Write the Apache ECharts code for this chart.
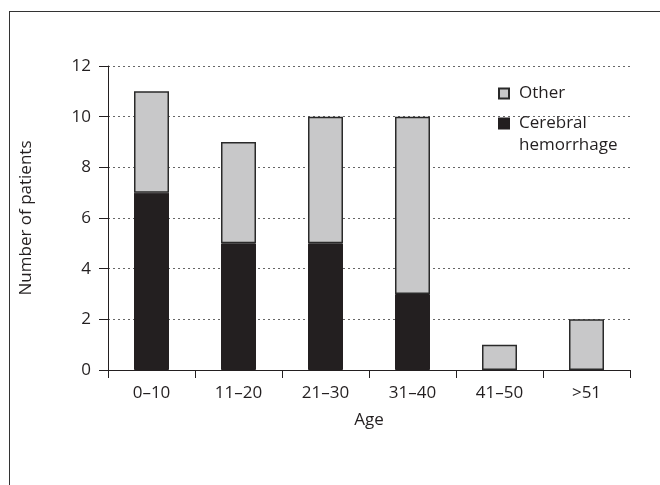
<!DOCTYPE html>
<html>
<head>
<meta charset="utf-8">
<script src="https://cdn.jsdelivr.net/npm/echarts@6/dist/echarts.min.js"></script>
<style>
  html, body { margin: 0; padding: 0; background: #fff; }
  .wrap { position: relative; width: 660px; height: 485px; overflow: hidden; }
  .frame { position: absolute; left: 9px; top: 11px; right: -2px; bottom: -2px;
    border-left: 1.5px solid #333; border-top: 1.5px solid #333; }
  #chart { position: absolute; left: 0; top: 0; width: 660px; height: 485px; }
</style>
</head>
<body>
<div class="wrap">
  <div class="frame"></div>
  <div id="chart"></div>
</div>
<script>
// age groups
var ageGroups = ['0–10', '11–20', '21–30', '31–40', '41–50', '>51']
// cerebral hemorrhage cases per group
var cerebral = [7, 5, 5, 3, 0, 0]
// other causes per group
var other = [4, 4, 5, 7, 1, 2]

var font = '"Open Sans", "Noto Sans", sans-serif'
var fs = 17
var myChart = echarts.init(document.getElementById('chart'))
myChart.setOption({
  animation: false,
  textStyle: { fontFamily: font },
  grid: {
    left: 108,
    right: 30,
    top: 66,
    bottom: 115,
    containLabel: false
  },
  legend: {
    orient: 'vertical',
    left: 498,
    top: 85,
    padding: 0,
    itemWidth: 10,
    itemHeight: 10,
    itemGap: -9,
    icon: 'rect',
    data: ['Other', 'Cerebral\nhemorrhage'],
    // blank first line keeps "Cerebral" level with its icon
    formatter: function (name) {
      var lines = name.split('\n')
      if (lines.length > 1) lines.unshift(' ')
      return lines.map(function (l) { return '{t|' + l + '}' }).join('\n')
    },
    textStyle: {
      fontFamily: font,
      fontSize: fs,
      color: '#231f20',
      rich: {
        t: { fontFamily: font, fontSize: fs, color: '#231f20', lineHeight: 22, padding: [0, 0, 0, 5] }
      }
    }
  },
  xAxis: {
    type: 'category',
    data: ageGroups,
    name: 'Age',
    nameLocation: 'middle',
    nameGap: 42,
    nameTextStyle: { fontFamily: font, fontSize: fs, color: '#231f20' },
    axisLine: { lineStyle: { color: '#231f20', width: 1 } },
    axisTick: { show: true, length: 8, lineStyle: { color: '#231f20' } },
    axisLabel: { fontFamily: font, fontSize: fs, color: '#231f20', margin: 15 }
  },
  yAxis: {
    type: 'value',
    min: 0,
    max: 12,
    interval: 2,
    name: 'Number of patients',
    nameLocation: 'middle',
    nameGap: 73,
    nameTextStyle: { fontFamily: font, fontSize: fs, color: '#231f20' },
    axisLine: { show: true, lineStyle: { color: '#231f20', width: 1 } },
    axisTick: { show: true, length: 9, lineStyle: { color: '#231f20' } },
    axisLabel: { fontFamily: font, fontSize: fs, color: '#231f20', margin: 17 },
    splitLine: {
      show: true,
      lineStyle: { color: '#666', width: 1, type: [2, 3] }
    }
  },
  series: [
    {
      name: 'Cerebral\nhemorrhage',
      type: 'bar',
      stack: 'total',
      barWidth: 35,
      data: cerebral,
      itemStyle: { color: '#231f20', borderColor: '#231f20', borderWidth: 1 }
    },
    {
      name: 'Other',
      type: 'bar',
      stack: 'total',
      barWidth: 35,
      data: other,
      itemStyle: { color: '#c8c8c9', borderColor: '#2a2a2a', borderWidth: 1.5 }
    }
  ]
})
</script>
</body>
</html>
